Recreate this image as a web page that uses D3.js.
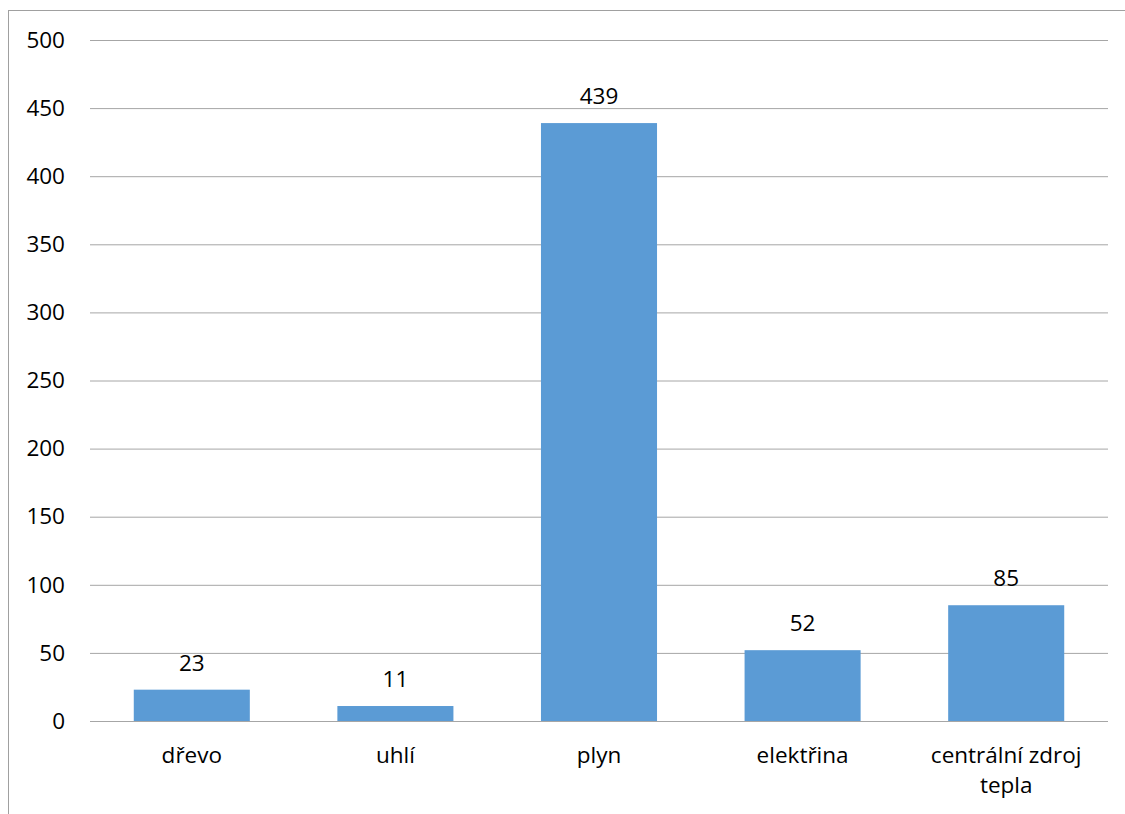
<!DOCTYPE html>
<html>
<head>
<meta charset="utf-8">
<script src="https://cdn.jsdelivr.net/npm/d3@7"></script>
<style>
  html, body { margin: 0; padding: 0; background: #fff; }
  svg { display: block; }
  text { font-family: "Open Sans", "Liberation Sans", sans-serif; fill: #000; }
</style>
</head>
<body>
<svg id="chart" width="1125" height="814"></svg>
<script>
// Heating sources: number of households
const categories = ["dřevo", "uhlí", "plyn", "elektřina", "centrální zdroj tepla"];
const values = [23, 11, 439, 52, 85];
const yTicks = [0, 50, 100, 150, 200, 250, 300, 350, 400, 450, 500];

const svg = d3.select("#chart");
const W = 1125, H = 814;
const plot = { left: 90, right: 1108, top: 40, bottom: 721 };
const FONT = '"Open Sans", "Liberation Sans", sans-serif';
const FS = 22.5;

// Outer chart frame (extends past the right and bottom of the view)
svg.append("rect")
  .attr("x", 8.5).attr("y", 10.5)
  .attr("width", W + 10).attr("height", H + 10)
  .attr("fill", "none").attr("stroke", "#a0a0a0").attr("stroke-width", 1);

const x = d3.scaleBand()
  .domain(categories)
  .range([plot.left, plot.right])
  .paddingInner(0.43)
  .paddingOuter(0.215);

const y = d3.scaleLinear()
  .domain([0, 500])
  .range([plot.bottom, plot.top]);

// Horizontal gridlines and y tick labels
const yAxis = d3.axisLeft(y)
  .tickValues(yTicks)
  .tickSize(-(plot.right - plot.left))
  .tickPadding(25)
  .tickFormat(d3.format("d"));

const gy = svg.append("g")
  .attr("transform", `translate(${plot.left},0)`)
  .call(yAxis);
gy.select(".domain").remove();
gy.selectAll(".tick line").attr("stroke", "#a6a6a6").attr("stroke-width", 1);
gy.selectAll(".tick text")
  .attr("font-size", FS)
  .attr("font-family", FONT)
  .attr("fill", "#000");

// Bars
svg.append("g").selectAll("rect")
  .data(categories)
  .join("rect")
  .attr("x", d => x(d))
  .attr("y", (d, i) => y(values[i]))
  .attr("width", x.bandwidth())
  .attr("height", (d, i) => y(0) - y(values[i]))
  .attr("fill", "#5b9bd5");

// Value labels
svg.append("g").selectAll("text")
  .data(categories)
  .join("text")
  .attr("x", d => x(d) + x.bandwidth() / 2)
  .attr("y", (d, i) => y(values[i]) - 19)
  .attr("text-anchor", "middle")
  .attr("font-size", FS)
  .text((d, i) => values[i]);

// Category labels (wrapped to two lines where long)
const catLines = d => d === "centrální zdroj tepla" ? ["centrální zdroj", "tepla"] : [d];
const gx = svg.append("g");
categories.forEach(c => {
  const cx = x(c) + x.bandwidth() / 2;
  const t = gx.append("text")
    .attr("x", cx)
    .attr("y", 763)
    .attr("text-anchor", "middle")
    .attr("font-size", FS);
  catLines(c).forEach((line, i) => {
    t.append("tspan")
      .attr("x", cx)
      .attr("dy", i === 0 ? 0 : 30)
      .text(line);
  });
});
</script>
</body>
</html>
